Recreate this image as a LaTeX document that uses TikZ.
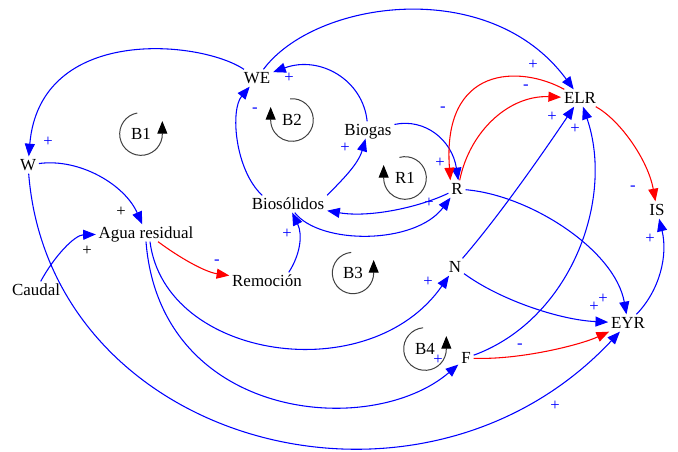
\documentclass[tikz,border=0pt]{standalone}
\usepackage{fontspec}
\setmainfont{Liberation Serif}
\usetikzlibrary{arrows.meta}
\begin{document}
\begin{tikzpicture}[x=0.75pt,y=-0.75pt,
  var/.style={inner sep=2pt, text height=8.6pt, text depth=0pt, font=\fontsize{12.7}{15}\selectfont},
  loopname/.style={inner sep=0pt, font=\fontsize{12.7}{15}\selectfont},
  plink/.style={draw=blue, line width=0.8pt, -{Triangle[length=9.5pt,width=7.5pt]}},
  nlink/.style={draw=red, line width=0.8pt, -{Triangle[length=9.5pt,width=7.5pt]}},
  lbl/.style={text=blue, inner sep=0pt, font=\fontsize{12.5}{14}\selectfont},
  lblk/.style={lbl, text=black},
  loopc/.style={draw=black!75, line width=0.75pt, -{Triangle[length=9.5pt,width=7.5pt,color=black]}},
]
\useasboundingbox (0,0) rectangle (678,451);

% variables
\node[var] (WE) at (257,78) {WE};
\node[var] (W) at (28,165) {W};
\node[var] (AR) at (146,233) {Agua residual};
\node[var] (Caudal) at (36,290) {Caudal};
\node[var] (Rem) at (267,281) {Remoción};
\node[var] (Bios) at (288,204) {Biosólidos};
\node[var] (Biogas) at (368,130) {Biogas};
\node[var] (R) at (457,189) {R};
\node[var] (ELR) at (580,98) {ELR};
\node[var] (IS) at (657,210) {IS};
\node[var] (N) at (455,267) {N};
\node[var] (F) at (466,358) {F};
\node[var] (EYR) at (628,323) {EYR};

% loops
\node[loopname] (B1) at (141,134) {B1};
\node[loopname] (B2) at (292,120) {B2};
\node[loopname] (R1) at (405,178) {R1};
\node[loopname] (B3) at (353,273) {B3};
\node[loopname] (B4) at (425,349) {B4};
\draw[loopc] ([shift={(100:16pt)}]B1.center) arc[start angle=100,end angle=360,radius=16pt] -- ++(0,-13);
\draw[loopc] ([shift={(95:16pt)}]B2.center) arc[start angle=95,end angle=-180,radius=16pt] -- ++(0,-13);
\draw[loopc] ([shift={(105:16pt)}]R1.center) arc[start angle=105,end angle=-180,radius=16pt] -- ++(0,-13);
\draw[loopc] ([shift={(95:15.5pt)}]B3.center) arc[start angle=95,end angle=360,radius=15.5pt] -- ++(0,-13);
\draw[loopc] ([shift={(95:16pt)}]B4.center) arc[start angle=95,end angle=360,radius=16pt] -- ++(0,-13);

% connectors
\draw[plink] (WE) .. controls (200,40) and (40,25) .. (W);
\draw[plink] (WE) .. controls (315,0) and (490,-25) .. (ELR);
\draw[plink] (Biogas) .. controls (363,80) and (320,55) .. (WE);
\draw[plink] ([xshift=10pt]Bios.north west) .. controls (235,170) and (230,110) .. (WE);
\draw[plink] (W) .. controls (80,158) and (125,185) .. (AR);
\draw[plink] (W) .. controls (50,445) and (420,545) .. (EYR);
\draw[plink] (Caudal) .. controls (55,255) and (75,235) .. (AR);
\draw[nlink] ([xshift=9pt]AR.south) .. controls (180,258) and (205,272) .. (Rem);
\draw[plink] ([xshift=3pt]AR.south) .. controls (165,360) and (370,390) .. (N);
\draw[plink] (AR.south) .. controls (160,420) and (370,440) .. (F);
\draw[plink] ([xshift=-12pt]Rem.north east) .. controls (300,255) and (303,235) .. (Bios);
\draw[plink] (Bios.north east) .. controls (340,182) and (358,165) .. (Biogas);
\draw[plink] (R) .. controls (420,207) and (370,218) .. (Bios);
\draw[plink] (Bios) .. controls (320,245) and (415,245) .. (R);
\draw[plink] (Biogas) .. controls (425,118) and (452,140) .. ([xshift=1pt]R.north);
\draw[nlink] (ELR) .. controls (520,65) and (442,65) .. ([xshift=-5pt]R.north);
\draw[nlink] ([xshift=2pt]R.north) .. controls (470,130) and (510,95) .. (ELR);
\draw[plink] (N) .. controls (500,215) and (545,150) .. (ELR);
\draw[plink] (F) .. controls (570,320) and (615,200) .. (ELR);
\draw[nlink] (ELR) .. controls (620,120) and (648,160) .. (IS);
\draw[plink] (EYR) .. controls (660,290) and (668,255) .. (IS);
\draw[plink] (R) .. controls (530,195) and (615,250) .. (EYR);
\draw[plink] (N) .. controls (500,300) and (560,320) .. (EYR);
\draw[nlink] (F) .. controls (520,360) and (580,345) .. (EYR);

% polarity labels
\node[lbl] (l1) at (48,142) {+};
\node[lbl] (l2) at (533,65) {+};
\node[lbl] (l3) at (289,78) {+};
\node[lbl] (l4) at (255,110) {-};
\node[lblk] (l5) at (121,212) {+};
\node[lbl] (l6) at (555,406) {+};
\node[lblk] (l7) at (87,251) {+};
\node[lbl] (l8) at (217,262) {-};
\node[lbl] (l9) at (428,282) {+};
\node[lbl] (l10) at (438,360) {+};
\node[lbl] (l11) at (287,234) {+};
\node[lbl] (l12) at (345,148) {+};
\node[lbl] (l13) at (429,203) {+};
\node[lbl] (l14) at (440,163) {+};
\node[lbl] (l15) at (443,109) {-};
\node[lbl] (l16) at (526,87) {-};
\node[lbl] (l17) at (552,117) {+};
\node[lbl] (l18) at (575,129) {+};
\node[lbl] (l19) at (633,188) {-};
\node[lbl] (l20) at (650,239) {+};
\node[lbl] (l21) at (594,307) {+};
\node[lbl] (l22) at (603,299) {+};
\node[lbl] (l23) at (520,346) {-};
\end{tikzpicture}
\end{document}
